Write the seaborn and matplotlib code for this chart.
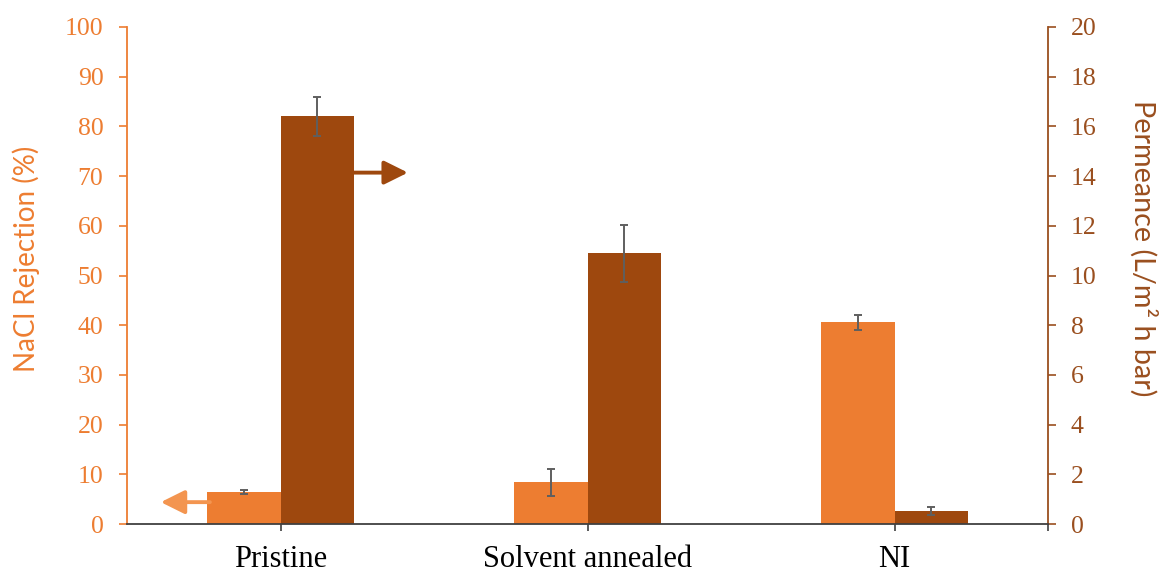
import numpy as np
import pandas as pd
import matplotlib
matplotlib.use("Agg")
import matplotlib.pyplot as plt
import seaborn as sns

# Membrane performance data
categories = ["Pristine", "Solvent annealed", "NI"]
rejection = [6.4, 8.4, 40.6]          # NaCl rejection (%)
rejection_err = [0.4, 2.7, 1.5]
permeance = [16.4, 10.9, 0.52]        # L/m2 h bar
permeance_err = [0.8, 1.15, 0.16]
left_ticks = list(range(0, 101, 10))
right_ticks = list(range(0, 21, 2))

ORANGE = "#ED7D31"
BROWN = "#9E480E"
AXIS_BROWN = "#9A4F1F"
ARROW_ORANGE = "#F39550"
ERR_GREY = "#5F5F5F"

sns.set_theme(style="white")
plt.rcParams["font.family"] = ["DejaVu Sans"]

rej_name = "NaCl Rejection"
perm_name = "Permeance"
df_rej = pd.DataFrame({"cat": categories, "value": rejection, "series": rej_name})
df_perm = pd.DataFrame({"cat": categories, "value": permeance, "series": perm_name})
hue_order = [rej_name, perm_name]
palette = {rej_name: ORANGE, perm_name: BROWN}

fig = plt.figure(figsize=(11.62, 5.72), dpi=100)
ax = fig.add_axes([0.1093, 0.0839, 0.7926, 0.8689])
ax2 = ax.twinx()

sns.barplot(data=df_rej, x="cat", y="value", hue="series", hue_order=hue_order,
            palette=palette, order=categories, width=0.48, dodge=True,
            errorbar=None, legend=False, ax=ax, saturation=1, linewidth=0)
sns.barplot(data=df_perm, x="cat", y="value", hue="series", hue_order=hue_order,
            palette=palette, order=categories, width=0.48, dodge=True,
            errorbar=None, legend=False, ax=ax2, saturation=1, linewidth=0)

def bar_centers(axis):
    pats = [p for p in axis.patches if p.get_height() > 0]
    pats.sort(key=lambda p: p.get_x())
    return [p.get_x() + p.get_width() / 2 for p in pats]

rx = bar_centers(ax)
px = bar_centers(ax2)
ax.errorbar(rx, rejection, yerr=rejection_err, fmt="none", ecolor=ERR_GREY,
            elinewidth=1.4, capsize=3, capthick=1.4, zorder=5)
ax2.errorbar(px, permeance, yerr=permeance_err, fmt="none", ecolor=ERR_GREY,
             elinewidth=1.4, capsize=3, capthick=1.4, zorder=5)

ax.set_xlim(-0.5, 2.5)
ax.set_ylim(0, 100)
ax2.set_ylim(0, 20)
ax.set_yticks(left_ticks)
ax2.set_yticks(right_ticks)

serif = ["Liberation Serif", "DejaVu Serif"]
sans = ["Lato", "Open Sans", "DejaVu Sans"]

ax.set_xticks(range(len(categories)))
ax.set_xticks([2.5], minor=True)
ax.set_xticklabels(categories, fontsize=22, family=serif, color="black")
ax.set_yticklabels([str(t) for t in left_ticks], fontsize=18.5, family=serif, color=ORANGE)
ax2.set_yticklabels([str(t) for t in right_ticks], fontsize=18.5, family=serif, color=AXIS_BROWN)

ax.set_xlabel("")
ax.set_ylabel("NaCl Rejection (%)", fontsize=20, family=sans, color=ORANGE)
ax.yaxis.set_label_coords(-0.0945, 0.534)
ax2.set_ylabel("Permeance (L/m² h bar)", fontsize=20.7, family=sans,
               color=AXIS_BROWN, rotation=270, va="center")
ax2.yaxis.set_label_coords(1.1035, 0.554)

for a in (ax, ax2):
    a.spines["top"].set_visible(False)
ax.spines["right"].set_visible(False)
ax2.spines["left"].set_visible(False)
ax2.spines["bottom"].set_visible(False)
ax.spines["left"].set_color(ORANGE)
ax.spines["left"].set_linewidth(1.3)
ax2.spines["right"].set_color(AXIS_BROWN)
ax2.spines["right"].set_linewidth(1.3)
ax.spines["bottom"].set_color("#404040")
ax.spines["bottom"].set_linewidth(1.3)

ax.tick_params(axis="y", which="major", left=True, length=6, width=1.2,
               color=ORANGE, direction="out", pad=11)
ax.tick_params(axis="x", which="both", bottom=True, length=5, width=1.2,
               color="#404040", direction="out", pad=10)
ax2.tick_params(axis="y", which="major", right=True, length=6, width=1.2,
                color=AXIS_BROWN, direction="out", pad=10.5)

# Arrows pointing each series to its axis
arrow_style = "-|>,head_length=1.45,head_width=0.72"
ax.annotate("", xy=(-0.39, 4.4), xytext=(-0.23, 4.4),
            arrowprops=dict(arrowstyle=arrow_style, mutation_scale=10,
                            color=ARROW_ORANGE, lw=2.8, shrinkA=0, shrinkB=0),
            zorder=6)
ax.annotate("", xy=(0.415, 70.7), xytext=(0.22, 70.7),
            arrowprops=dict(arrowstyle=arrow_style, mutation_scale=10,
                            color=BROWN, lw=2.8, shrinkA=0, shrinkB=0),
            zorder=6)
ax.set_zorder(ax2.get_zorder() + 1)
ax.patch.set_visible(False)

fig.savefig("out.png", dpi=100)
